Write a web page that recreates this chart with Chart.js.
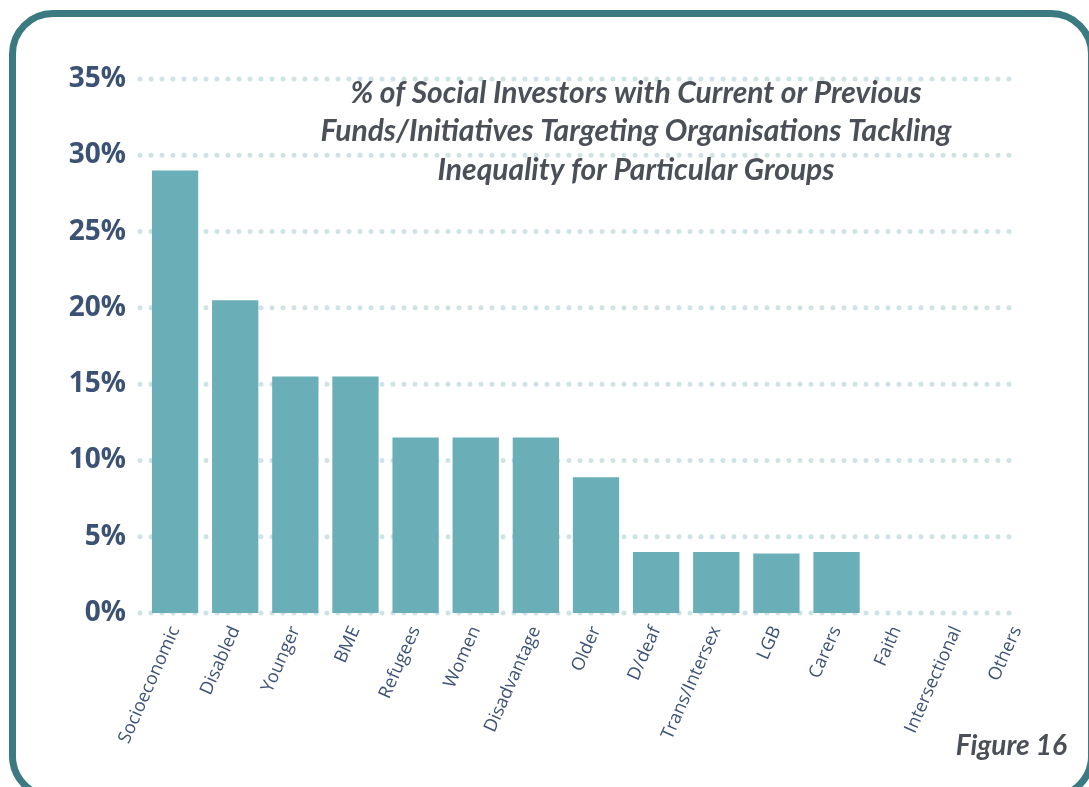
<!DOCTYPE html>
<html>
<head>
<meta charset="utf-8">
<script src="https://cdn.jsdelivr.net/npm/chart.js@4.4.1/dist/chart.umd.min.js"></script>
<style>
  html, body { margin: 0; padding: 0; background: #fff; }
  body { width: 1089px; height: 787px; position: relative; overflow: hidden; }
  .frame {
    position: absolute; left: 9px; top: 10px; width: 1086px; height: 790px;
    box-sizing: border-box; border: 7px solid #3b7a80; border-radius: 44px;
  }
  #chartWrap { position: absolute; left: 0; top: 0; width: 1089px; height: 787px; }
</style>
</head>
<body>
<div class="frame"></div>
<div id="chartWrap"><canvas id="groupsChart"></canvas></div>
<script>
const groups = ["Socioeconomic", "Disabled", "Younger", "BME", "Refugees", "Women", "Disadvantage",
  "Older", "D/deaf", "Trans/Intersex", "LGB", "Carers", "Faith", "Intersectional", "Others"];
const shares = [29, 20.5, 15.5, 15.5, 11.5, 11.5, 11.5, 8.9, 4, 4, 3.9, 4, 0, 0, 0];
const yTicks = [0, 5, 10, 15, 20, 25, 30, 35];
const titleLines = [
  "% of Social Investors with Current or Previous",
  "Funds/Initiatives Targeting Organisations Tackling",
  "Inequality for Particular Groups"
];

// dotted gridlines, round dots like the original
const dotGrid = {
  id: "dotGrid",
  beforeDatasetsDraw(chart) {
    const { ctx, chartArea, scales } = chart;
    ctx.save();
    ctx.strokeStyle = "#cfe3e6";
    ctx.lineWidth = 5;
    ctx.lineCap = "round";
    ctx.setLineDash([0, 11]);
    yTicks.forEach(v => {
      const y = scales.y.getPixelForValue(v);
      ctx.beginPath();
      ctx.moveTo(chartArea.left - 5, y);
      ctx.lineTo(chartArea.right - 35, y);
      ctx.stroke();
    });
    ctx.restore();
  }
};

const textBits = {
  id: "textBits",
  afterDraw(chart) {
    const ctx = chart.ctx;
    ctx.save();
    ctx.fillStyle = "#4b4f58";
    ctx.textAlign = "center";
    ctx.textBaseline = "middle";
    ctx.font = "italic 700 30px Lato";
    titleLines.forEach((line, i) => ctx.fillText(line, 636, 93 + i * 38.5));
    ctx.textAlign = "right";
    ctx.font = "italic 700 28px Lato";
    ctx.fillText("Figure 16", 1067, 746);
    ctx.restore();
  }
};

new Chart(document.getElementById("groupsChart"), {
  type: "bar",
  data: {
    labels: groups,
    datasets: [{
      data: shares,
      backgroundColor: "#6aafb8",
      barPercentage: 0.77,
      categoryPercentage: 1
    }]
  },
  options: {
    responsive: true,
    maintainAspectRatio: false,
    animation: false,
    layout: { padding: { left: 0, right: 42, top: 79, bottom: 4 } },
    plugins: { legend: { display: false }, tooltip: { enabled: false } },
    scales: {
      x: {
        grid: { display: false },
        border: { display: false },
        ticks: {
          color: "#3d5275",
          font: { family: "'Open Sans'", size: 18 },
          minRotation: 66,
          maxRotation: 66,
          autoSkip: false,
          padding: 2
        },
        afterFit(scale) { scale.height = 170; }
      },
      y: {
        min: 0,
        max: 35,
        grid: { display: false },
        border: { display: false },
        ticks: {
          stepSize: 5,
          color: "#3b5274",
          padding: 11,
          font: { family: "'Open Sans'", size: 28, weight: "700" },
          callback: v => v + "%"
        },
        afterFit(scale) { scale.width = 145; }
      }
    }
  },
  plugins: [dotGrid, textBits]
});
</script>
</body>
</html>
